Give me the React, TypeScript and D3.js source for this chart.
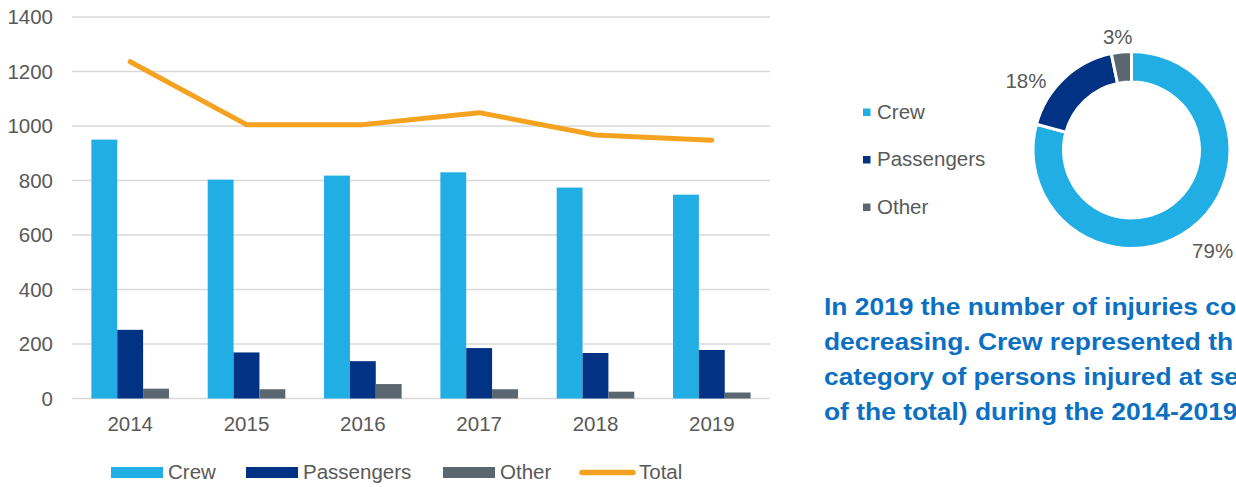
import React from "react";
import * as d3 from "d3";

const years = ["2014", "2015", "2016", "2017", "2018", "2019"];
const crew = [950, 803, 818, 830, 774, 748];
const passengers = [252, 169, 137, 185, 167, 178];
const other = [36, 34, 53, 34, 25, 22];
const total = [1236, 1005, 1005, 1049, 967, 948];
const seriesNames = ["Crew", "Passengers", "Other"];
const seriesColors = ["#20AEE5", "#023284", "#5A6670"];
const totalName = "Total";
const totalColor = "#F4A21F";
const yTicks = [0, 200, 400, 600, 800, 1000, 1200, 1400];
const noteLines = [
  "In 2019 the number of injuries co",
  "decreasing. Crew represented th",
  "category of persons injured at se",
  "of the total) during the 2014-2019",
];

const W = 1236;
const H = 487;
const FONT = "'Liberation Sans', Arial, sans-serif";
const TEXT = "#595959";

export default function App() {
  const seriesValues = [crew, passengers, other];
  const y = d3.scaleLinear().domain([0, 1400]).range([398.5, 17]);
  const x0 = d3
    .scaleBand<string>()
    .domain(years)
    .range([72, 770])
    .paddingInner(0.333)
    .paddingOuter(0.1667);
  const x1 = d3
    .scaleBand<string>()
    .domain(seriesNames)
    .range([0, x0.bandwidth()]);

  const line = d3
    .line<number>()
    .x((_, i) => (x0(years[i]) as number) + x0.bandwidth() / 2)
    .y((d) => y(d));

  // donut: totals over all years
  const sums = seriesValues.map((s) => d3.sum(s));
  const sumAll = d3.sum(sums);
  const pie = d3.pie<number>().sort(null).startAngle(0).endAngle(Math.PI * 2);
  const arcs = pie(sums);
  const cx = 1131.5;
  const cy = 150;
  const R = 98.5;
  const r = 68;
  const arcGen = d3.arc<d3.PieArcDatum<number>>().innerRadius(r).outerRadius(R);

  const legendItems = [
    { name: "Crew", color: seriesColors[0], sx: 111, tx: 168 },
    { name: "Passengers", color: seriesColors[1], sx: 246, tx: 303 },
    { name: "Other", color: seriesColors[2], sx: 443, tx: 500 },
  ];

  return (
    <svg
      width={W}
      height={H}
      style={{ position: "absolute", left: 0, top: 0, background: "#fff" }}
      fontFamily={FONT}
    >
      {/* gridlines */}
      {yTicks.map((t) => (
        <g key={t}>
          <line
            x1={72}
            x2={770}
            y1={y(t)}
            y2={y(t)}
            stroke="#D9D9D9"
            strokeWidth={1.5}
          />
          <text
            x={53}
            y={y(t)}
            dy="0.35em"
            textAnchor="end"
            fontSize={20.5}
            fill={TEXT}
          >
            {t}
          </text>
        </g>
      ))}
      {/* bars */}
      {years.map((yr, i) => (
        <g key={yr} transform={`translate(${x0(yr)},0)`}>
          {seriesNames.map((s, j) => (
            <rect
              key={s}
              x={x1(s)}
              y={y(seriesValues[j][i])}
              width={x1.bandwidth()}
              height={y(0) - y(seriesValues[j][i])}
              fill={seriesColors[j]}
            />
          ))}
          <text
            x={x0.bandwidth() / 2}
            y={431}
            textAnchor="middle"
            fontSize={20.5}
            fill={TEXT}
          >
            {yr}
          </text>
        </g>
      ))}
      {/* total line */}
      <path
        d={line(total) || ""}
        fill="none"
        stroke={totalColor}
        strokeWidth={5}
        strokeLinejoin="round"
        strokeLinecap="round"
      />
      {/* bottom legend */}
      {legendItems.map((it) => (
        <g key={it.name}>
          <rect x={it.sx} y={467} width={52} height={11} fill={it.color} />
          <text x={it.tx} y={478.5} fontSize={20.5} fill={TEXT}>
            {it.name}
          </text>
        </g>
      ))}
      <line
        x1={582}
        x2={633}
        y1={472.5}
        y2={472.5}
        stroke={totalColor}
        strokeWidth={5.5}
        strokeLinecap="round"
      />
      <text x={639} y={478.5} fontSize={20.5} fill={TEXT}>
        {totalName}
      </text>

      {/* donut legend */}
      {seriesNames.map((s, j) => (
        <g key={s}>
          <rect
            x={863}
            y={108.5 + j * 47.5}
            width={7.5}
            height={7.5}
            fill={seriesColors[j]}
          />
          <text x={877} y={118.5 + j * 47.5} fontSize={20.5} fill={TEXT}>
            {s}
          </text>
        </g>
      ))}

      {/* donut */}
      <g transform={`translate(${cx},${cy})`}>
        {arcs.map((a, j) => (
          <path
            key={j}
            d={arcGen(a) || ""}
            fill={seriesColors[j]}
            stroke="#fff"
            strokeWidth={3}
            strokeLinejoin="miter"
          />
        ))}
        {arcs.map((a, j) => {
          const mid = (a.startAngle + a.endAngle) / 2;
          const dx = Math.sin(mid);
          const dy = -Math.cos(mid);
          const lr = R + 14;
          const px = dx * lr + dx * 21 - (dx < -0.5 ? 14 : 0);
          const py = dy * lr + dy * 7 + (dx < -0.5 ? 12 : 0) + 6;
          return (
            <text
              key={"l" + j}
              x={px}
              y={py}
              dy="0.35em"
              textAnchor="middle"
              fontSize={20.5}
              fill={TEXT}
            >
              {Math.round((sums[j] / sumAll) * 100) + "%"}
            </text>
          );
        })}
      </g>

      {/* note */}
      <g transform="translate(824,0) scale(1.1,1)">
        {noteLines.map((l, i) => (
          <text
            key={i}
            x={0}
            y={315.5 + i * 35}
            fontSize={24}
            fontWeight="bold"
            fill="#0B70C1"
          >
            {l}
          </text>
        ))}
      </g>
    </svg>
  );
}
